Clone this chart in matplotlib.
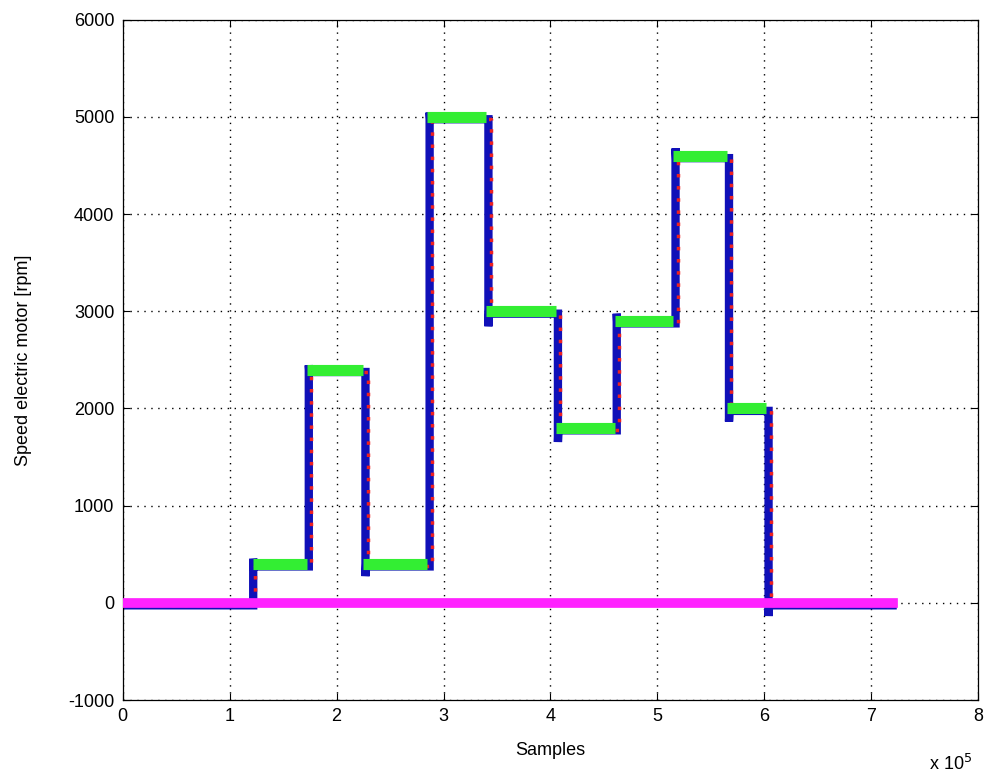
import matplotlib
matplotlib.use("Agg")
import matplotlib.pyplot as plt
import numpy as np

plt.rcParams['font.family'] = ['Liberation Sans Narrow', 'Liberation Sans', 'DejaVu Sans']
plt.rcParams['axes.unicode_minus'] = False

# step change times (in units of 1e5 samples) and speed levels [rpm]
switch_times = [1.20, 1.72, 2.25, 2.85, 3.40, 4.05, 4.60, 5.15, 5.65, 6.02]
levels_before = [0, 400, 2400, 400, 5000, 3000, 1800, 2900, 4600, 2000]
levels_after = [400, 2400, 400, 5000, 3000, 1800, 2900, 4600, 2000, 0]
overshoot = [480, 2470, 300, 5070, 2870, 1680, 3000, 4700, 1890, -110]
t_start = 0.0
t_end = 7.20
ref_starts = [1.22, 1.72, 2.25, 2.85, 3.40, 4.05, 4.60, 5.15, 5.65]
ref_ends = [1.72, 2.25, 2.85, 3.40, 4.05, 4.60, 5.15, 5.65, 6.02]
ref_levels = [400, 2400, 400, 5000, 3000, 1800, 2900, 4600, 2000]
scale = 1e5

def build(lag, use_over):
    xs, ys = [t_start], [levels_before[0]]
    for t, a, b, o in zip(switch_times, levels_before, levels_after, overshoot):
        tt = t + lag
        xs += [tt, tt]
        ys += [a, o if use_over else b]
        if use_over:
            xs += [tt + 0.005]
            ys += [b]
    xs.append(t_end)
    ys.append(levels_after[-1])
    return np.array(xs) * scale, np.array(ys)

fig = plt.figure(figsize=(9.9, 7.84), dpi=100)
ax = fig.add_axes([0.124, 0.107, 0.864, 0.868])

bx, by = build(0.02, True)
ax.plot(bx, by - 25, color='#1010b8', lw=6, zorder=2, solid_joinstyle='miter')
rx, ry = build(0.04, False)
ax.plot(rx, ry - 20, color='#ee2020', lw=2.5, ls=(0, (1, 2.5)), zorder=3)
ax.hlines(ref_levels, np.array(ref_starts) * scale, np.array(ref_ends) * scale,
          color='#33ee33', lw=8, zorder=4)
ax.plot([t_start * scale, t_end * scale], [0, 0], color='#ff22ff', lw=7, zorder=5)

ax.set_xlim(0, 8e5)
ax.set_ylim(-1000, 6000)
xt = np.arange(0, 9)
ax.set_xticks(xt * scale)
ax.set_xticklabels([str(v) for v in xt])
ax.set_yticks(np.arange(-1000, 6001, 1000))
ax.tick_params(direction='in', length=5, labelsize=13, top=True, right=True, pad=6)
ax.grid(True, color='black', ls=(0, (1, 4)), lw=1.0)
for s in ax.spines.values():
    s.set_linewidth(0.9)
ax.set_xlabel('Samples', fontsize=13, labelpad=12)
ax.set_ylabel('Speed electric motor [rpm]', fontsize=13, labelpad=26)
fig.text(0.938, 0.018, r'x 10$^5$', fontsize=13)

fig.savefig('out.png', dpi=100, facecolor='white')
